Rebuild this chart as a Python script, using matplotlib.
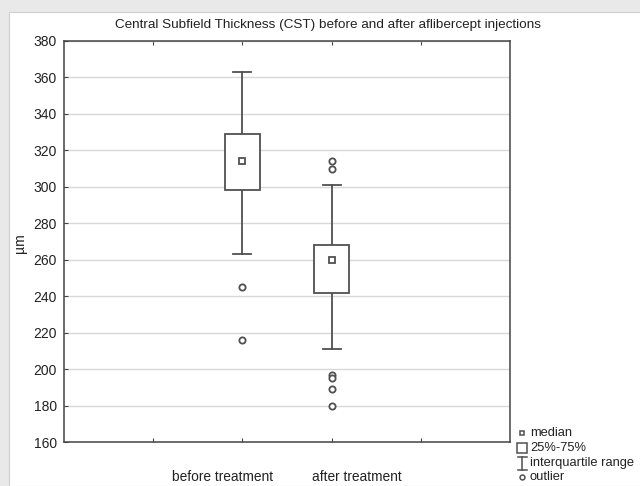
import matplotlib
matplotlib.use("Agg")
import matplotlib.pyplot as plt
from matplotlib.patches import Rectangle
from matplotlib.lines import Line2D

categories = ["before treatment", "after treatment"]
positions = [2, 3]
label_positions = [1.78, 3.28]
medians = [314, 260]
q1 = [298, 242]
q3 = [329, 268]
whisk_lo = [263, 211]
whisk_hi = [363, 301]
outliers = [[245, 216], [314, 310, 197, 195, 189, 180]]
yticks = list(range(160, 381, 20))

plt.rcParams['font.family'] = ['Liberation Sans', 'DejaVu Sans']

fig = plt.figure(figsize=(6.4, 4.86), dpi=100)
fig.patch.set_facecolor('#e9e9e9')
W, H = 640, 486
fig.patches.append(Rectangle((9 / W, 0), 1, 1 - 12 / H, transform=fig.transFigure,
                             facecolor='white', edgecolor='#cfcfcf', lw=0.8, zorder=-10))

L, R, T, B = 64, 510, 41, 442
ax = fig.add_axes([L / W, 1 - B / H, (R - L) / W, (B - T) / H])
ax.set_zorder(5)
ax.set_xlim(0, 5)
ax.set_ylim(160, 380)
ax.set_yticks(yticks)
ax.set_xticks([1, 2, 3, 4])
ax.set_xticklabels([])
ax.grid(axis='y', color='#d8d8d8', lw=1.0)
ax.set_axisbelow(True)
ec = '#505050'
for s in ax.spines.values():
    s.set_color('#444444')
    s.set_linewidth(1.1)
ax.tick_params(axis='x', direction='in', top=True, bottom=True, length=3, color='#444444')
ax.tick_params(axis='y', direction='in', length=3, color='#444444', labelsize=10, pad=5,
               labelcolor='#222222')

bw = 0.39
cw = 0.2
for i, p in enumerate(positions):
    ax.plot([p, p], [q3[i], whisk_hi[i]], color=ec, lw=1.3, zorder=2)
    ax.plot([p, p], [whisk_lo[i], q1[i]], color=ec, lw=1.3, zorder=2)
    ax.plot([p - cw / 2, p + cw / 2], [whisk_hi[i]] * 2, color=ec, lw=1.3, zorder=2)
    ax.plot([p - cw / 2, p + cw / 2], [whisk_lo[i]] * 2, color=ec, lw=1.3, zorder=2)
    ax.add_patch(Rectangle((p - bw / 2, q1[i]), bw, q3[i] - q1[i], facecolor='white',
                           edgecolor=ec, lw=1.3, zorder=3))
    ax.plot([p], [medians[i]], marker='s', ms=4.5, mfc='white', mec=ec, mew=1.3, zorder=4)
    ax.plot([p] * len(outliers[i]), outliers[i], ls='none', marker='o', ms=4.5,
            mfc='white', mec=ec, mew=1.3, zorder=4)

ylab = 160 - (477 - B) / ((B - T) / 220)
for lp, c in zip(label_positions, categories):
    ax.text(lp, ylab, c, ha='center', va='center', fontsize=9.9,
            color='#222222', clip_on=False)

fig.text(328 / W, 1 - 25 / H,
         "Central Subfield Thickness (CST) before and after aflibercept injections",
         fontsize=9.7, color='#222222', ha='center', va='center')
fig.text(20 / W, 1 - 243 / H, "µm", fontsize=10, rotation=90, ha='center', va='center',
         color='#222222')

# legend
lx = 522 / W
items = [('s', 'median'), ('bigs', '25%-75%'), ('I', 'interquartile range'), ('o', 'outlier')]
ys = [433, 448, 463, 477]
for (k, lab), yy in zip(items, ys):
    yf = 1 - yy / H
    if k == 's':
        fig.add_artist(Line2D([lx], [yf], marker='s', ms=3.5, mfc='white', mec=ec, mew=1.1))
    elif k == 'bigs':
        fig.add_artist(Line2D([lx], [yf], marker='s', ms=7.5, mfc='white', mec=ec, mew=1.1))
    elif k == 'I':
        fig.add_artist(Line2D([lx, lx], [yf - 6.5 / H, yf + 6.5 / H], color=ec, lw=1.1))
        fig.add_artist(Line2D([lx - 4.5 / W, lx + 4.5 / W], [yf + 6.5 / H] * 2, color=ec, lw=1.1))
        fig.add_artist(Line2D([lx - 4.5 / W, lx + 4.5 / W], [yf - 6.5 / H] * 2, color=ec, lw=1.1))
    else:
        fig.add_artist(Line2D([lx], [yf], marker='o', ms=3.5, mfc='white', mec=ec, mew=1.1))
    fig.text(530 / W, yf, lab, fontsize=9.3, va='center', ha='left', color='#222222')

fig.savefig("out.png", dpi=100, facecolor=fig.get_facecolor())
